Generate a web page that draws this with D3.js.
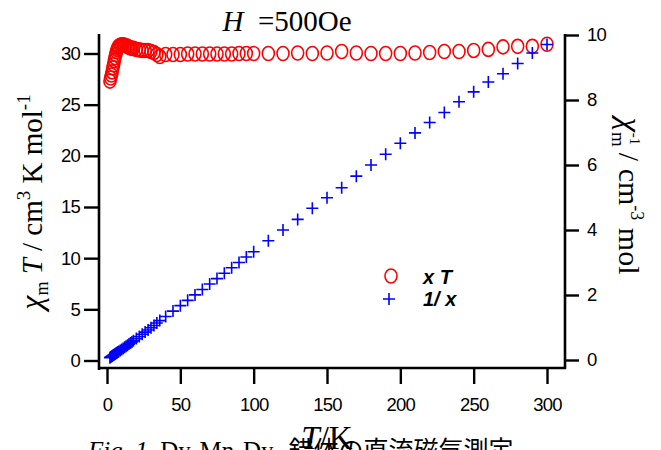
<!DOCTYPE html>
<html>
<head>
<meta charset="utf-8">
<script src="https://cdn.jsdelivr.net/npm/d3@7"></script>
<style>
  body { margin: 0; background: #fff; }
  svg { display: block; }
</style>
</head>
<body>
<div class="canvas"></div>
<script>
// temperature points (K)
const temps = [2, 2.5, 3, 3.5, 4, 4.5, 5, 5.5, 6, 6.5, 7, 7.5, 8, 9, 10, 11, 12, 13, 14, 15,
  16, 17, 18, 20, 22, 24, 26, 28, 30, 32, 34, 36, 40, 45, 50, 55, 60, 65, 70, 75, 80, 85,
  90, 95, 100, 110, 120, 130, 140, 150, 160, 170, 180, 190, 200, 210, 220, 230, 240, 250,
  260, 270, 280, 290, 300];

// chi_m T  (cm3 K mol-1)
const chiT = [27.3, 27.6, 27.9, 28.2, 28.6, 28.9, 29.3, 29.6, 29.9, 30.2, 30.4, 30.6, 30.7, 30.8, 30.85, 30.85, 30.8, 30.75, 30.7, 30.6,
  30.55, 30.5, 30.5, 30.4, 30.35, 30.3, 30.3, 30.3, 30.2, 30.1, 29.9, 29.7, 29.9, 29.9, 29.9, 29.95, 29.95, 29.95, 29.95, 29.95, 29.95, 29.95,
  30.0, 30.0, 30.0, 30.0, 30.0, 30.05, 30.0, 30.05, 30.2, 30.05, 30.0, 30.0, 30.0, 30.05, 30.1, 30.2, 30.2, 30.3,
  30.4, 30.65, 30.7, 30.7, 30.9];

// 1 / chi_m  (cm-3 mol)
const invChi = [0.073, 0.091, 0.108, 0.124, 0.140, 0.156, 0.171, 0.186, 0.201, 0.215, 0.230, 0.245, 0.261, 0.292, 0.324, 0.357, 0.390, 0.423, 0.456, 0.490,
  0.524, 0.557, 0.590, 0.658, 0.725, 0.792, 0.858, 0.924, 0.993, 1.063, 1.137, 1.212, 1.338, 1.505, 1.672, 1.836, 2.003, 2.170, 2.337, 2.504, 2.671, 2.838,
  3.000, 3.167, 3.333, 3.667, 4.000, 4.326, 4.667, 4.992, 5.298, 5.657, 6.000, 6.333, 6.667, 6.988, 7.309, 7.616, 7.947, 8.251,
  8.553, 8.809, 9.121, 9.446, 9.709];

const xTicks = [0, 50, 100, 150, 200, 250, 300];
const leftTicks = [0, 5, 10, 15, 20, 25, 30];
const rightTicks = [0, 2, 4, 6, 8, 10];

const W = 661, H = 450;
const serif = '"Liberation Serif", "DejaVu Serif", serif';
const sans = '"Liberation Sans", Arial, sans-serif';

const svg = d3.select('.canvas').append('svg')
    .attr('width', W)
    .attr('height', H);

const x = d3.scaleLinear().domain([0, 300]).range([107, 547]);
const yL = d3.scaleLinear().domain([0, 30]).range([360.5, 53.5]);
const yR = d3.scaleLinear().domain([0, 10]).range([360, 35]);

// axes
function styleAxis(g) {
    g.select('.domain').remove();
    g.selectAll('.tick line').attr('stroke', '#000').attr('stroke-width', 2.4);
    g.selectAll('.tick text')
        .attr('fill', '#000')
        .style('font-family', sans)
        .style('font-size', '18.5px')
        .style('letter-spacing', '-0.8px');
}

svg.append('g')
    .attr('transform', 'translate(0,368)')
    .call(d3.axisBottom(x).tickValues(xTicks).tickSize(16).tickPadding(14).tickFormat(d3.format('d')))
    .call(styleAxis);

svg.append('g')
    .attr('transform', 'translate(99,0)')
    .call(d3.axisLeft(yL).tickValues(leftTicks).tickSize(15).tickPadding(4).tickFormat(d3.format('d')))
    .call(styleAxis);

svg.append('g')
    .attr('transform', 'translate(565,0)')
    .call(d3.axisRight(yR).tickValues(rightTicks).tickSize(14).tickPadding(8).tickFormat(d3.format('d')))
    .call(styleAxis);

// axis lines
svg.append('line').attr('x1', 99).attr('x2', 99).attr('y1', 34).attr('y2', 370)
    .attr('stroke', '#000').attr('stroke-width', 2.6);
svg.append('line').attr('x1', 565).attr('x2', 565).attr('y1', 34).attr('y2', 369)
    .attr('stroke', '#000').attr('stroke-width', 2.6);
svg.append('line').attr('x1', 98).attr('x2', 566).attr('y1', 368).attr('y2', 368)
    .attr('stroke', '#000').attr('stroke-width', 2.6);

// chi T circles
const pts = temps.map((t, i) => ({ t: t, a: chiT[i], b: invChi[i] }));

svg.append('g').selectAll('ellipse')
    .data(pts)
    .join('ellipse')
    .attr('cx', d => x(d.t))
    .attr('cy', d => yL(d.a))
    .attr('rx', 6)
    .attr('ry', 7)
    .attr('fill', 'none')
    .attr('stroke', '#ff0000')
    .attr('stroke-width', 1.6);

// 1/chi crosses
svg.append('g').selectAll('path')
    .data(pts)
    .join('path')
    .attr('transform', d => `translate(${x(d.t)},${yR(d.b)})`)
    .attr('d', 'M-6,0H6M0,-6V6')
    .attr('stroke', '#0000ff')
    .attr('stroke-width', 1.6);

// legend
svg.append('ellipse')
    .attr('cx', 391).attr('cy', 276).attr('rx', 6).attr('ry', 7)
    .attr('fill', 'none').attr('stroke', '#ff0000').attr('stroke-width', 1.6);
svg.append('path')
    .attr('transform', 'translate(389,299)')
    .attr('d', 'M-6,0H6M0,-6V6')
    .attr('stroke', '#0000ff').attr('stroke-width', 1.6);
svg.append('text').text('x  T')
    .attr('x', 423).attr('y', 284)
    .style('font-family', sans).style('font-size', '20px')
    .style('font-weight', 'bold').style('font-style', 'italic');
svg.append('text').text('1/ x')
    .attr('x', 423).attr('y', 306)
    .style('font-family', sans).style('font-size', '20px')
    .style('font-weight', 'bold').style('font-style', 'italic');

// title
const title = svg.append('text')
    .attr('x', 287).attr('y', 31)
    .attr('text-anchor', 'middle')
    .style('font-family', serif).style('font-size', '29px');
title.append('tspan').text('H').style('font-style', 'italic');
title.append('tspan').text('\u00a0 =500Oe');

// left label
const ll = svg.append('text')
    .attr('transform', 'translate(42,202) rotate(-90)')
    .attr('text-anchor', 'middle')
    .style('font-family', serif).style('font-size', '29px');
ll.append('tspan').text('\u03c7').style('font-style', 'italic').style('font-size', '32px');
ll.append('tspan').text('m').attr('dy', 6).style('font-size', '18px');
ll.append('tspan').text('\u00a0T').attr('dy', -6).style('font-style', 'italic');
ll.append('tspan').text(' / cm');
ll.append('tspan').text('3').attr('dy', -12).style('font-size', '19px');
ll.append('tspan').text(' K mol').attr('dy', 12);
ll.append('tspan').text('-1').attr('dy', -12).style('font-size', '19px');

// right label
const rl = svg.append('text')
    .attr('transform', 'translate(619,196) rotate(90)')
    .attr('text-anchor', 'middle')
    .style('font-family', serif).style('font-size', '30px');
rl.append('tspan').text('\u03c7').style('font-style', 'italic').style('font-size', '33px');
rl.append('tspan').text('m').attr('dy', 7).style('font-size', '19px');
rl.append('tspan').text('-1').attr('dy', -18).attr('dx', -14).style('font-size', '15px');
rl.append('tspan').text(' / cm').attr('dy', 11);
rl.append('tspan').text('-3').attr('dy', -12).style('font-size', '18px');
rl.append('tspan').text(' mol').attr('dy', 12);

// x label
const xl = svg.append('text')
    .attr('x', 327).attr('y', 449)
    .attr('text-anchor', 'middle')
    .style('font-family', serif).style('font-size', '33px');
xl.append('tspan').text('T').style('font-style', 'italic');
xl.append('tspan').text('/K');

// caption (cut off at bottom)
const cap = svg.append('text')
    .attr('x', 88).attr('y', 459)
    .style('font-family', serif).style('font-size', '25px');
cap.append('tspan').text('Fig. 1').style('font-style', 'italic');
cap.append('tspan').text('\u00a0 Dy\u2082Mn\u2082Dy\u2082 ');
cap.append('tspan').text('錯体の直流磁気測定').style('font-family', '"Noto Sans CJK JP", sans-serif');
</script>
</body>
</html>
